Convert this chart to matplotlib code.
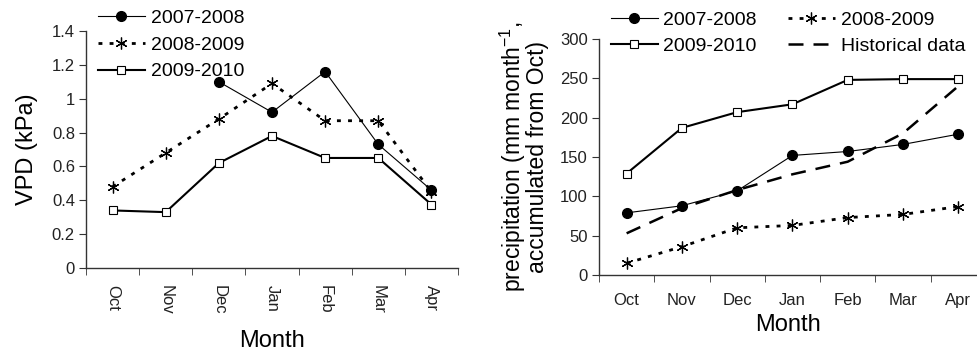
import numpy as np
import matplotlib
matplotlib.use("Agg")
import matplotlib.pyplot as plt

plt.rcParams['font.family'] = ['Liberation Sans', 'DejaVu Sans']

months = ["Oct", "Nov", "Dec", "Jan", "Feb", "Mar", "Apr"]

# VPD (kPa)
vpd_0708 = [np.nan, np.nan, 1.10, 0.92, 1.16, 0.73, 0.46]
vpd_0809 = [0.48, 0.68, 0.88, 1.09, 0.87, 0.87, 0.45]
vpd_0910 = [0.34, 0.33, 0.62, 0.78, 0.65, 0.65, 0.375]

# Accumulated precipitation (mm)
pr_0708 = [79, 88, 107, 152, 157, 166, 179]
pr_0809 = [15, 36, 60, 63, 73, 77, 87]
pr_0910 = [129, 187, 207, 217, 248, 249, 249]
pr_hist = [53, 85, 108, 128, 144, 180, 240]

series_labels = ["2007-2008", "2008-2009", "2009-2010", "Historical data"]

W, H = 977, 354
fig = plt.figure(figsize=(W / 100, H / 100), dpi=100)

def px_axes(x0, x1, ytop, ybot):
    return fig.add_axes([x0 / W, 1 - ybot / H, (x1 - x0) / W, (ybot - ytop) / H])

ast = (6, 2, 0)
st_0708 = dict(color='black', lw=0.8, marker='o', ms=7, mfc='black', mec='black')
st_0809 = dict(color='black', lw=2.0, ls=(0, (1.4, 2.6)), marker=ast, ms=8.5, mec='black', mew=0.9)
st_0910 = dict(color='black', lw=1.5, marker='s', ms=5.2, mfc='white', mec='black', mew=0.8)
st_hist = dict(color='black', lw=1.8, ls=(0, (6, 4)))

x = np.arange(len(months))
TICK = 12
LAB = 17

def style_axes(ax):
    for s in ['top', 'right']:
        ax.spines[s].set_visible(False)
    for s in ['left', 'bottom']:
        ax.spines[s].set_color('#333333')
        ax.spines[s].set_linewidth(1.0)
    ax.tick_params(axis='both', which='both', direction='out', colors='#333333',
                   labelcolor='#222222', labelsize=TICK)

# ---- Left panel ----
ax1 = px_axes(86, 458, 31, 268)
l1, = ax1.plot(x, vpd_0708, label=series_labels[0], **st_0708)
l2, = ax1.plot(x, vpd_0809, label=series_labels[1], **st_0809)
l3, = ax1.plot(x, vpd_0910, label=series_labels[2], **st_0910)
ax1.set_xlim(-0.5, 6.5)
ax1.set_ylim(0, 1.4)
ax1.set_yticks([0, 0.2, 0.4, 0.6, 0.8, 1.0, 1.2, 1.4])
ax1.set_yticklabels(["0", "0.2", "0.4", "0.6", "0.8", "1", "1.2", "1.4"])
ax1.set_xticks(x)
ax1.set_xticklabels(months, rotation=270)
ax1.set_xticks(np.arange(-0.5, 7.0, 1.0), minor=True)
style_axes(ax1)
ax1.tick_params(axis='x', which='major', length=0, pad=12)
ax1.tick_params(axis='x', which='minor', length=5)
ax1.tick_params(axis='y', length=5, pad=3)
ax1.set_xlabel("Month", fontsize=LAB, labelpad=11)
ax1.set_ylabel("VPD (kPa)", fontsize=LAB, labelpad=10)
fig.legend(handles=[l1, l2, l3], loc='upper left', bbox_to_anchor=(98 / W, 1 - 9 / H),
           frameon=False, fontsize=14, handlelength=2.4, handletextpad=0.3,
           labelspacing=0.48, borderpad=0, borderaxespad=0)

# ---- Right panel ----
ax2 = px_axes(599, 977, 39, 275)
r1, = ax2.plot(x, pr_0708, label=series_labels[0], **st_0708)
r2, = ax2.plot(x, pr_0809, label=series_labels[1], **st_0809)
r3, = ax2.plot(x, pr_0910, label=series_labels[2], **st_0910)
r4, = ax2.plot(x, pr_hist, label=series_labels[3], **st_hist)
ax2.set_xlim(-0.5, 6.34)
ax2.set_ylim(0, 300)
ax2.set_yticks(np.arange(0, 301, 50))
ax2.set_xticks(x)
ax2.set_xticklabels(months)
ax2.set_xticks(np.arange(-0.5, 6.0, 1.0), minor=True)
style_axes(ax2)
ax2.tick_params(axis='x', which='major', length=0, pad=13)
ax2.tick_params(axis='x', which='minor', length=5)
ax2.tick_params(axis='y', length=5, pad=3)
ax2.set_xlabel("Month", fontsize=LAB, labelpad=4)
ax2.set_ylabel("precipitation (mm month$^{\\mathregular{-1}}$,\naccumulated from Oct)",
               fontsize=16.5, labelpad=8, linespacing=0.9)
fig.legend(handles=[r1, r3, r2, r4], ncol=2, loc='upper left',
           bbox_to_anchor=(611 / W, 1 - 11 / H), frameon=False, fontsize=14,
           handlelength=2.4, handletextpad=0.3, labelspacing=0.45, columnspacing=1.6,
           borderpad=0, borderaxespad=0)

fig.savefig("out.png", dpi=100)
